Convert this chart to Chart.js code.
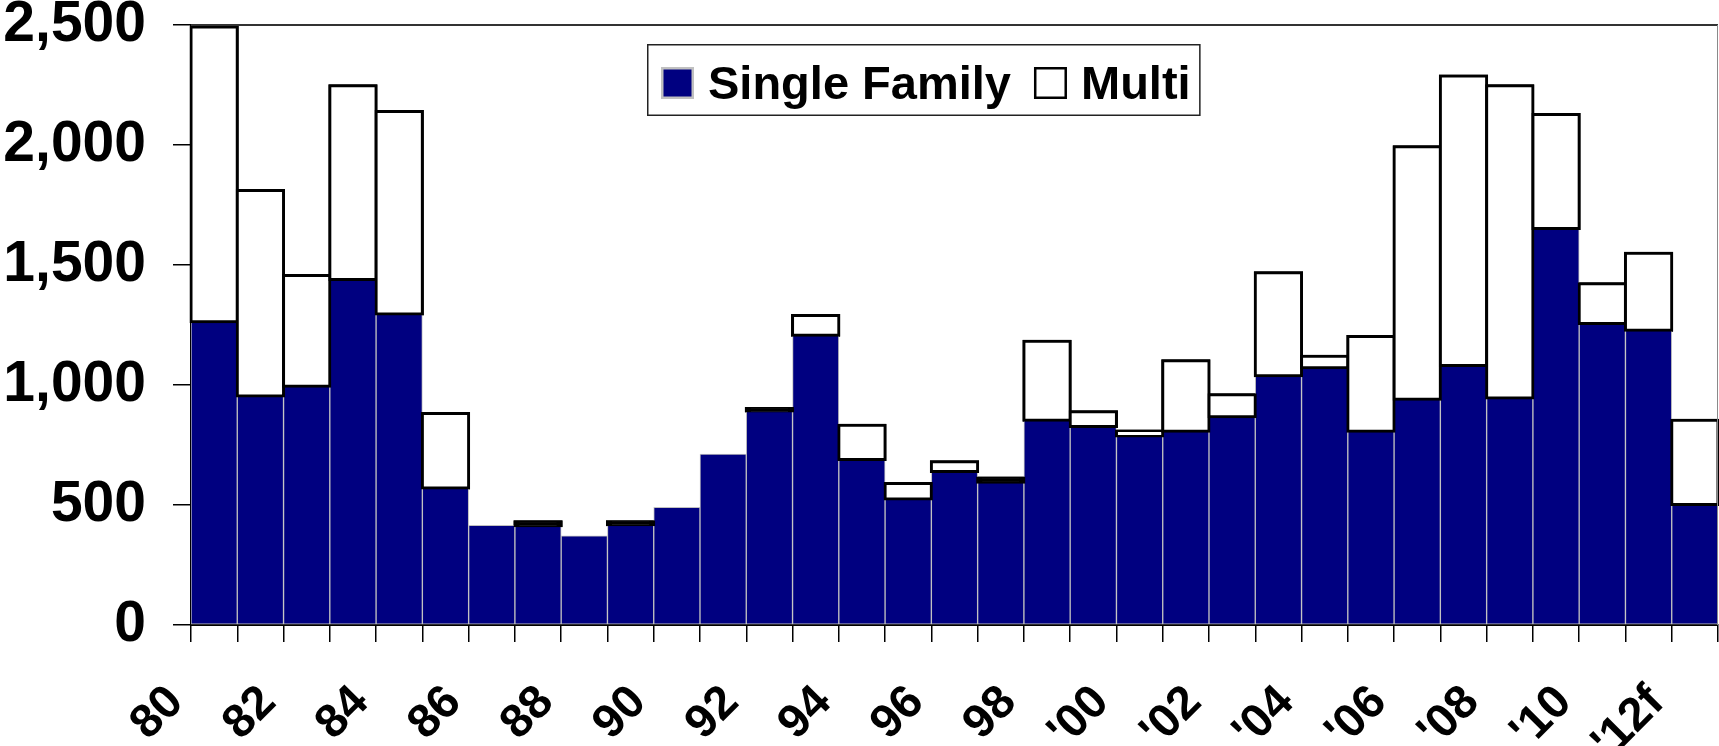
<!DOCTYPE html>
<html>
<head>
<meta charset="utf-8">
<script src="https://cdn.jsdelivr.net/npm/chart.js@4/dist/chart.umd.min.js"></script>
<style>
  html, body { margin: 0; padding: 0; background: #fff; }
  #wrap { width: 1719px; height: 746px; }
</style>
</head>
<body>
<div id="wrap"><canvas id="c" width="1719" height="746"></canvas></div>
<script>
// Housing starts by year (thousands of units), 1980 through the 2012 forecast
const yearLabels = ['80','81','82','83','84','85','86','87','88','89',
  '90','91','92','93','94','95','96','97','98','99',
  "'00","'01","'02","'03","'04","'05","'06","'07","'08","'09",
  "'10","'11","'12f"];

const singleFamily = [1264, 954, 995, 1440, 1296, 571, 415, 414, 372, 418,
  490, 712, 892, 1207, 690, 525, 640, 595, 853, 827,
  788, 807, 868, 1039, 1072, 807, 941, 1081, 946, 1652,
  1256, 1228, 502];

const multi = [1228, 856, 461, 807, 844, 310, 0, 16, 0, 12,
  0, 0, 10, 83, 142, 65, 40, 17, 329, 62,
  20, 294, 91, 429, 48, 395, 1052, 1207, 1301, 475,
  166, 321, 351];

const yMax = 2500;
const yStep = 500;

const FONT = '"Liberation Sans", Arial, Helvetica, sans-serif';

// Height in pixels of a bar segment for the given value
function segmentHeight(c) {
  const y = c.chart.scales.y;
  if (!y) return Infinity;
  return Math.abs(y.getPixelForValue(0) - y.getPixelForValue(c.raw || 0));
}

// Multi-family outlines are stroked on the bar edges, so they are drawn
// again after the single-family bars; then the plot-area frame is added.
const plotFrame = {
  id: 'plotFrame',
  afterDatasetsDraw(chart) {
    const { ctx, chartArea: a } = chart;
    ctx.save();
    chart.getDatasetMeta(1).data.forEach((el) => el.draw(ctx));
    ctx.restore();

    ctx.save();
    ctx.strokeStyle = '#333';
    ctx.lineWidth = 2;
    ctx.beginPath();
    ctx.moveTo(a.left, a.top);
    ctx.lineTo(a.right, a.top);
    ctx.stroke();
    ctx.strokeStyle = '#8a8a8a';
    ctx.lineWidth = 1;
    ctx.beginPath();
    ctx.moveTo(a.right - 0.5, a.top);
    ctx.lineTo(a.right - 0.5, a.bottom);
    ctx.stroke();
    ctx.restore();
  }
};

// Boxed legend inside the plot area
const boxLegend = {
  id: 'boxLegend',
  afterDraw(chart) {
    const { ctx } = chart;
    const ds = chart.data.datasets;
    ctx.save();
    ctx.font = `bold 47px ${FONT}`;
    const left = 647, top = 44, h = 72;
    const padL = 14, padR = 10, mk = 33, gapTxt = 14, gapItem = 23;
    let w = padL;
    ds.forEach((d, i) => {
      w += mk + gapTxt + ctx.measureText(d.label).width;
      if (i < ds.length - 1) w += gapItem;
    });
    w += padR;
    ctx.fillStyle = '#fff';
    ctx.fillRect(left, top, w, h);
    ctx.strokeStyle = '#222';
    ctx.lineWidth = 1.5;
    ctx.strokeRect(left + 0.75, top + 0.75, w - 1.5, h - 1.5);
    let x = left + padL;
    const mTop = 67, mSize = 32, baseline = 99;
    ds.forEach((d) => {
      ctx.fillStyle = d.legendFill;
      ctx.fillRect(x, mTop, mk, mSize);
      ctx.strokeStyle = d.borderColor;
      ctx.lineWidth = 2.5;
      ctx.strokeRect(x + 1.25, mTop + 1.25, mk - 2.5, mSize - 2.5);
      x += mk + gapTxt;
      ctx.fillStyle = '#000';
      ctx.textBaseline = 'alphabetic';
      ctx.textAlign = 'left';
      ctx.fillText(d.label, x, baseline);
      x += ctx.measureText(d.label).width + gapItem;
    });
    ctx.restore();
  }
};

new Chart(document.getElementById('c'), {
  type: 'bar',
  data: {
    labels: yearLabels,
    datasets: [
      {
        label: 'Single Family',
        data: singleFamily,
        backgroundColor: '#000080',
        legendFill: '#000080',
        borderColor: '#c0c0c0',
        borderWidth: 1,
        borderSkipped: false,
        barPercentage: 1,
        categoryPercentage: 1
      },
      {
        label: 'Multi',
        data: multi,
        legendFill: '#ffffff',
        // very thin segments are covered entirely by their outline
        backgroundColor: (c) => (segmentHeight(c) <= 4.5 ? '#000000' : '#ffffff'),
        borderColor: '#000000',
        // outline straddles the bar edge; empty years draw nothing
        borderWidth: (c) => (c.raw ? 3 : 0),
        inflateAmount: (c) => (c.raw ? 1.5 : 0),
        borderSkipped: false,
        barPercentage: 1,
        categoryPercentage: 1
      }
    ]
  },
  options: {
    responsive: false,
    animation: false,
    devicePixelRatio: 1,
    layout: { padding: { top: 25, right: 1, left: 0, bottom: 0 } },
    plugins: {
      legend: { display: false },
      tooltip: { enabled: false },
      title: { display: false }
    },
    scales: {
      x: {
        stacked: true,
        offset: true,
        grid: {
          offset: true,
          drawOnChartArea: false,
          drawTicks: true,
          tickLength: 17,
          color: '#000',
          lineWidth: 1.5
        },
        border: { display: true, color: '#000', width: 2 },
        ticks: {
          autoSkip: false,
          minRotation: 45,
          maxRotation: 45,
          padding: 33,
          labelOffset: -38,
          color: '#000',
          font: { family: FONT, size: 47, weight: 'bold' },
          callback: (v, i) => (i % 2 === 0 ? yearLabels[i] : '')
        },
        afterFit(s) {
          s.height = 121;
          s.paddingLeft = 0;
          s.paddingRight = 0;
        }
      },
      y: {
        stacked: true,
        min: 0,
        max: yMax,
        grid: {
          drawOnChartArea: false,
          drawTicks: true,
          tickLength: 18,
          color: '#000',
          lineWidth: 1.5
        },
        border: { display: true, color: '#000', width: 2 },
        ticks: {
          stepSize: yStep,
          padding: 27,
          color: '#000',
          font: { family: FONT, size: 57, weight: 'bold', lineHeight: 0.8 },
          callback: (v) => Number(v).toLocaleString('en-US')
        },
        afterFit(s) {
          s.width = 191;
          s.paddingTop = 0;
          s.paddingBottom = 0;
        }
      }
    }
  },
  plugins: [plotFrame, boxLegend]
});
</script>
</body>
</html>
